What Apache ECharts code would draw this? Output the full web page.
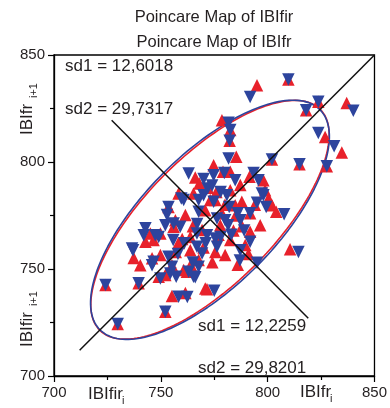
<!DOCTYPE html>
<html>
<head>
<meta charset="utf-8">
<script src="https://cdn.jsdelivr.net/npm/echarts@6/dist/echarts.min.js"></script>
<style>
html,body{margin:0;padding:0;background:#fff;}
#chart{width:390px;height:408px;}
</style>
</head>
<body>
<div id="chart"></div>
<script>
// ---- data ----
const titleLines = ['Poincare Map of IBIfir', 'Poincare Map of IBIfr'];
const tickValues = [700, 750, 800, 850];

// IBIfr (red, up triangles): [IBIfr_i, IBIfr_i+1]
const redPoints = [
  [795.0,835.9],[809.7,838.5],[823.7,828.1],[818.0,824.2],[837.0,827.6],[778.6,819.5],
  [782.5,814.9],[782.2,809.9],[826.9,811.7],[834.7,804.4],[785.3,802.4],[802.0,801.2],
  [814.9,799.0],[827.7,798.0],[774.7,798.5],[779.1,795.4],[782.5,795.4],[766.1,792.8],
  [791.5,793.1],[798.0,791.5],[765.3,785.3],[775.5,782.2],[787.9,781.4],[800.4,783.0],
  [802.0,779.8],[804.0,776.7],[810.5,759.2],[791.8,767.4],[791.0,757.0],[771.6,740.5],
  [761.5,738.8],[762.2,748.7],[724.1,742.5],[739.6,743.3],[752.1,730.0],[729.8,724.3],
  [755.2,737.4],[737.3,755.1],[742.8,762.7],[745.9,755.0],[749.8,756.5],[749.0,746.4],
  [753.6,779.0],[756.0,769.7],[749.8,766.6],[758.2,762.1],[755.2,751.8],[758.3,785.3],
  [770.8,777.5],[778.6,776.0],[784.8,779.8],[791.8,776.0],[756.8,772.8],[745.1,766.6],
  [746.6,763.5],[769.3,768.2],[763.8,765.0],[777.8,770.5],[767.7,754.2],[775.5,758.0],
  [752.1,747.2],[760.7,749.5],[770.8,740.9],[773.1,782.2],[761.5,775.2],[782.5,786.8],
  [787.2,789.2],[796.5,770.5],[782.5,763.5],[789.5,761.2],[774.1,753.2],[780.1,756.5],
  [798.8,786.8],[763.8,758.8],[740.4,751.8],
  [768.0,790.0],[772.0,788.0],[776.0,786.0],[780.0,780.0],[785.0,775.0],[788.0,770.0],
  [765.0,770.0],[760.0,764.0],[770.0,760.0],[777.0,766.0],[784.0,768.0],[757.0,758.0],
  [764.0,752.0],[794.0,780.0],[786.0,752.0]
];
// IBIfir (blue, down triangles): [IBIfir_i, IBIfir_i+1]
const bluePoints = [
  [791.8,830.4],[809.7,838.5],[823.7,828.1],[818.0,824.2],[840.1,823.9],[781.7,818.3],
  [782.5,814.9],[782.2,809.9],[823.7,813.6],[831.1,807.4],[781.7,801.6],[802.0,801.2],
  [814.9,799.0],[827.7,798.0],[774.7,793.8],[779.7,794.9],[784.8,791.5],[763.0,794.6],
  [793.4,794.9],[795.7,791.5],[767.7,782.2],[770.0,784.5],[780.9,784.5],[798.0,784.5],
  [799.3,779.0],[807.7,775.6],[814.4,758.0],[791.8,762.7],[795.0,752.9],[775.0,739.8],
  [762.4,736.9],[766.1,746.1],[724.1,742.5],[739.6,743.3],[752.1,730.0],[729.8,724.3],
  [758.3,737.0],[737.0,758.8],[742.0,765.8],[746.6,753.4],[753.6,755.7],[749.8,745.6],
  [753.6,779.0],[752.1,770.5],[747.4,765.8],[755.8,763.5],[757.2,746.4],[760.7,782.2],
  [767.7,776.7],[780.1,772.8],[776.3,773.6],[791.8,776.0],[756.0,771.3],[742.8,769.0],
  [749.0,765.0],[766.9,766.6],[771.6,765.8],[781.5,770.5],[767.7,751.0],[776.3,760.4],
  [754.4,747.9],[763.0,748.7],[765.3,746.4],[771.9,787.6],[759.6,783.0],[774.7,781.4],
  [787.2,772.8],[752.9,775.2],[736.5,759.6],[745.9,751.8],[755.2,751.0],[766.9,760.4],
  [769.3,757.3],[775.5,764.3],[759.1,769.7],[797.3,785.3],[787.2,758.8],
  [770.0,792.0],[774.0,789.0],[778.0,786.0],[782.0,779.0],[786.0,776.0],[789.0,768.0],
  [767.0,771.0],[761.0,762.0],[771.0,762.0],[778.0,765.0],[783.0,766.0],[758.0,757.0],
  [765.0,753.0],[795.0,781.0],[787.0,754.0]
];

// Poincare descriptors: [sd1, sd2]
const sdFir = [12.6018, 29.7317];
const sdFr  = [12.2259, 29.8201];
const sdLabels = ['sd1 = 12,6018', 'sd2 = 29,7317', 'sd1 = 12,2259', 'sd2 = 29,8201'];
const ellipseCenter = [773, 773];
const identityLine = [[712, 712], [850, 850]];
const perpLine = [[727, 819.5], [819, 727]];

// ---- build ----
const FONT = '"Liberation Sans", Arial, Helvetica, sans-serif';
const TXT = '#231f20';
const RED = '#e8212b';
const BLUE = '#2d449d';

function ellipse(sd, c) {
  const k = 2.4477; // 95% confidence scaling
  const a = k * sd[1], b = k * sd[0];
  const pts = [];
  for (let i = 0; i <= 180; i++) {
    const t = i / 180 * 2 * Math.PI;
    const u = a * Math.cos(t), v = b * Math.sin(t);
    pts.push([c[0] + (u - v) / Math.SQRT2, c[1] + (u + v) / Math.SQRT2]);
  }
  return pts;
}

const chart = echarts.init(document.getElementById('chart'), null, {renderer: 'canvas'});

const axisCommon = {
  min: tickValues[0], max: tickValues[tickValues.length - 1], interval: 50,
  axisLine: {show: true, onZero: false, lineStyle: {color: '#000', width: 1.3}},
  axisTick: {show: true, inside: false, length: 6, lineStyle: {color: '#000', width: 1.2}},
  minorTick: {show: true, splitNumber: 2, length: 4, lineStyle: {color: '#000', width: 1.2}},
  splitLine: {show: false},
  axisLabel: {color: TXT, fontSize: 15, fontFamily: FONT, margin: 9}
};

function t(x, y, text, size, align, extra) {
  return Object.assign({
    type: 'text', x: x, y: y, silent: true,
    style: {text: text, fill: TXT, font: size + 'px ' + FONT, textAlign: align || 'left', textVerticalAlign: 'middle'}
  }, extra || {});
}

const graphics = [
  t(214, 17, titleLines[0], 16.5, 'center'),
  t(214, 42, titleLines[1], 16.5, 'center'),
  t(65, 66, sdLabels[0], 17),
  t(65, 109, sdLabels[1], 17),
  t(198, 326, sdLabels[2], 17),
  t(198, 368, sdLabels[3], 17),
  // x axis titles
  t(88, 394, 'IBIfir', 17),
  t(122, 401, 'i', 11),
  t(300, 392, 'IBIfr', 17),
  t(330, 399, 'i', 11),
  // y axis titles (rotated)
  t(27, 135, 'IBIfr', 17, 'left', {rotation: Math.PI / 2}),
  t(34, 98, 'i+1', 11, 'left', {rotation: Math.PI / 2}),
  t(27, 347, 'IBIfir', 17, 'left', {rotation: Math.PI / 2}),
  t(34, 306, 'i+1', 11, 'left', {rotation: Math.PI / 2})
];

chart.setOption({
  animation: false,
  backgroundColor: '#fff',
  grid: {left: 54, top: 55, right: 15, bottom: 32, show: true, borderColor: '#000', borderWidth: 1.3, backgroundColor: 'transparent'},
  xAxis: Object.assign({type: 'value'}, axisCommon),
  yAxis: Object.assign({type: 'value'}, axisCommon),
  graphic: graphics,
  series: [
    {type: 'line', data: ellipse(sdFr, ellipseCenter), showSymbol: false, smooth: false,
     lineStyle: {color: RED, width: 1.6}, z: 1},
    {type: 'line', data: ellipse(sdFir, ellipseCenter), showSymbol: false, smooth: false,
     lineStyle: {color: BLUE, width: 1.6}, z: 1},
    {type: 'scatter', data: redPoints, symbol: 'triangle', symbolSize: 12.5,
     itemStyle: {color: RED, opacity: 1}, z: 2},
    {type: 'scatter', data: bluePoints, symbol: 'triangle', symbolRotate: 180, symbolSize: 12.5,
     itemStyle: {color: BLUE, opacity: 1}, z: 3},
    {type: 'line', data: identityLine, showSymbol: false, lineStyle: {color: '#111', width: 1.5}, z: 4},
    {type: 'line', data: perpLine, showSymbol: false, lineStyle: {color: '#111', width: 1.5}, z: 4}
  ]
});
</script>
</body>
</html>
